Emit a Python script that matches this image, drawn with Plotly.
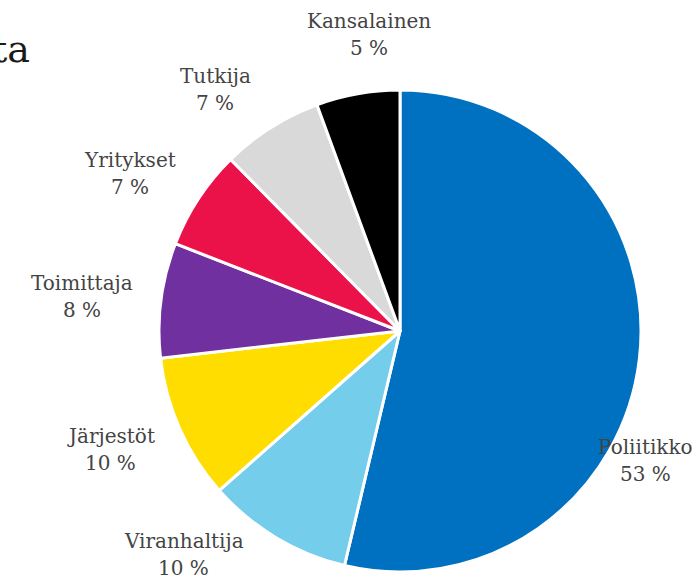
import plotly.graph_objects as go

W, H = 698, 580

labels = ["Poliitikko", "Viranhaltija", "Järjestöt", "Toimittaja", "Yritykset", "Tutkija", "Kansalainen"]
values = [53.7, 9.8, 9.7, 7.7, 6.7, 6.8, 5.6]
colors = ["#0070C0", "#74CDEA", "#FFDD00", "#7030A0", "#EB1149", "#D9D9D9", "#000000"]
pct_text = ["53 %", "10 %", "10 %", "8 %", "7 %", "7 %", "5 %"]

# label anchor: center x, baseline y of the name line (pixels from top)
label_pos = [(645, 454), (184, 548), (111, 443), (82, 290), (130, 167), (215, 83), (369, 28)]
LINE_GAP = 27
FONT_SIZE = 20

cx, cy, r = 400, 331, 241

fig = go.Figure(go.Pie(
    labels=labels,
    values=values,
    sort=False,
    direction="clockwise",
    rotation=0,
    marker=dict(colors=colors, line=dict(color="#FFFFFF", width=3)),
    textinfo="none",
    hoverinfo="label",
    showlegend=False,
    domain=dict(x=[(cx - r) / W, (cx + r) / W], y=[(H - cy - r) / H, (H - cy + r) / H]),
))

font = "DejaVu Serif, Liberation Serif, serif"
annotations = []
for lab, pt, (px, pb) in zip(labels, pct_text, label_pos):
    for k, txt in enumerate([lab, pt]):
        yc = pb + k * LINE_GAP - 7
        annotations.append(dict(
            x=px / W, y=1 - yc / H, xref="paper", yref="paper",
            text=txt, showarrow=False,
            xanchor="center", yanchor="middle", align="center",
            font=dict(family=font, size=FONT_SIZE, color="#444444"),
        ))

annotations.append(dict(
    x=32 / W, y=1 - 49 / H, xref="paper", yref="paper",
    text="ta", showarrow=False, xanchor="right", yanchor="middle",
    font=dict(family=font, size=38, color="#1a1a1a"),
))

fig.update_layout(
    width=W, height=H,
    margin=dict(l=0, r=0, t=0, b=0),
    paper_bgcolor="white",
    plot_bgcolor="white",
    annotations=annotations,
)

fig.write_html(
    "out.html",
    config={"displayModeBar": False},
    post_script="document.body.style.margin='0px';document.body.style.padding='0px';",
)
